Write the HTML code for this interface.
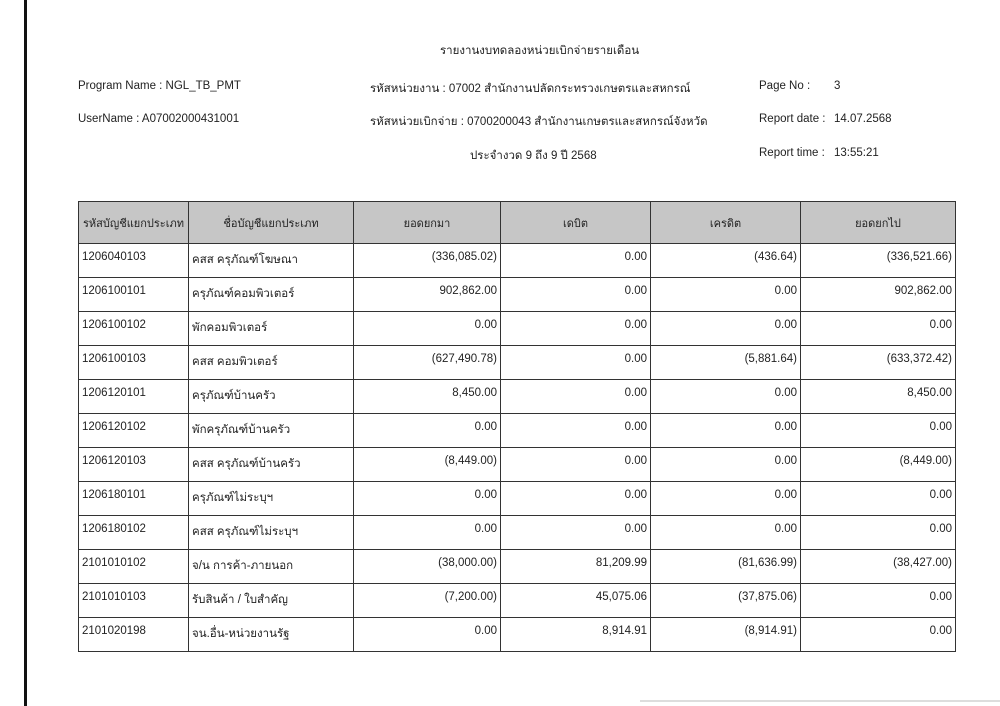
<!DOCTYPE html>
<html><head><meta charset="utf-8"><style>
body{margin:0;width:1000px;height:706px;background:#fff;position:relative;overflow:hidden;font-family:"Liberation Sans","DejaVu Sans",sans-serif;color:#222;font-size:11.5px}
.vl{position:absolute;left:24px;top:0;width:3px;height:706px;background:#111}
.t{position:absolute;white-space:nowrap}
table{position:absolute;left:78px;top:201px;border-collapse:collapse;table-layout:fixed}
td,th{border:1px solid #333;font-size:11.5px;font-weight:normal;padding:0 3px;white-space:nowrap;overflow:hidden}
th{background:#c6c6c6;height:41px;text-align:center;font-size:11px;padding:0 1px}
td.n{text-align:right}
td{vertical-align:top;padding-top:7px;height:26px}
</style></head><body>
<div class="vl"></div>
<div class="t" style="left:440px;top:42px">รายงานงบทดลองหน่วยเบิกจ่ายรายเดือน</div>
<div class="t" style="left:78px;top:80px">Program Name : NGL_TB_PMT</div>
<div class="t" style="left:370px;top:80px">รหัสหน่วยงาน : 07002 สำนักงานปลัดกระทรวงเกษตรและสหกรณ์</div>
<div class="t" style="left:759px;top:80px">Page No :</div>
<div class="t" style="left:834px;top:80px">3</div>
<div class="t" style="left:78px;top:113px">UserName : A07002000431001</div>
<div class="t" style="left:370px;top:113px">รหัสหน่วยเบิกจ่าย : 0700200043 สำนักงานเกษตรและสหกรณ์จังหวัด</div>
<div class="t" style="left:759px;top:113px">Report date :</div>
<div class="t" style="left:834px;top:113px">14.07.2568</div>
<div class="t" style="left:470px;top:147px">ประจำงวด 9 ถึง 9 ปี 2568</div>
<div class="t" style="left:759px;top:147px">Report time :</div>
<div class="t" style="left:834px;top:147px">13:55:21</div>
<table>
<colgroup><col style="width:110px"><col style="width:165px"><col style="width:147px"><col style="width:150px"><col style="width:150px"><col style="width:155px"></colgroup>
<tr><th>รหัสบัญชีแยกประเภท</th><th>ชื่อบัญชีแยกประเภท</th><th>ยอดยกมา</th><th>เดบิต</th><th>เครดิต</th><th>ยอดยกไป</th></tr>
<tr><td>1206040103</td><td>คสส ครุภัณฑ์โฆษณา</td><td class="n">(336,085.02)</td><td class="n">0.00</td><td class="n">(436.64)</td><td class="n">(336,521.66)</td></tr>
<tr><td>1206100101</td><td>ครุภัณฑ์คอมพิวเตอร์</td><td class="n">902,862.00</td><td class="n">0.00</td><td class="n">0.00</td><td class="n">902,862.00</td></tr>
<tr><td>1206100102</td><td>พักคอมพิวเตอร์</td><td class="n">0.00</td><td class="n">0.00</td><td class="n">0.00</td><td class="n">0.00</td></tr>
<tr><td>1206100103</td><td>คสส คอมพิวเตอร์</td><td class="n">(627,490.78)</td><td class="n">0.00</td><td class="n">(5,881.64)</td><td class="n">(633,372.42)</td></tr>
<tr><td>1206120101</td><td>ครุภัณฑ์บ้านครัว</td><td class="n">8,450.00</td><td class="n">0.00</td><td class="n">0.00</td><td class="n">8,450.00</td></tr>
<tr><td>1206120102</td><td>พักครุภัณฑ์บ้านครัว</td><td class="n">0.00</td><td class="n">0.00</td><td class="n">0.00</td><td class="n">0.00</td></tr>
<tr><td>1206120103</td><td>คสส ครุภัณฑ์บ้านครัว</td><td class="n">(8,449.00)</td><td class="n">0.00</td><td class="n">0.00</td><td class="n">(8,449.00)</td></tr>
<tr><td>1206180101</td><td>ครุภัณฑ์ไม่ระบุฯ</td><td class="n">0.00</td><td class="n">0.00</td><td class="n">0.00</td><td class="n">0.00</td></tr>
<tr><td>1206180102</td><td>คสส ครุภัณฑ์ไม่ระบุฯ</td><td class="n">0.00</td><td class="n">0.00</td><td class="n">0.00</td><td class="n">0.00</td></tr>
<tr><td>2101010102</td><td>จ/น การค้า-ภายนอก</td><td class="n">(38,000.00)</td><td class="n">81,209.99</td><td class="n">(81,636.99)</td><td class="n">(38,427.00)</td></tr>
<tr><td>2101010103</td><td>รับสินค้า / ใบสำคัญ</td><td class="n">(7,200.00)</td><td class="n">45,075.06</td><td class="n">(37,875.06)</td><td class="n">0.00</td></tr>
<tr><td>2101020198</td><td>จน.อื่น-หน่วยงานรัฐ</td><td class="n">0.00</td><td class="n">8,914.91</td><td class="n">(8,914.91)</td><td class="n">0.00</td></tr>
</table>
<div style="position:absolute;left:640px;top:700px;width:360px;height:2px;background:#ddd"></div>
</body></html>
